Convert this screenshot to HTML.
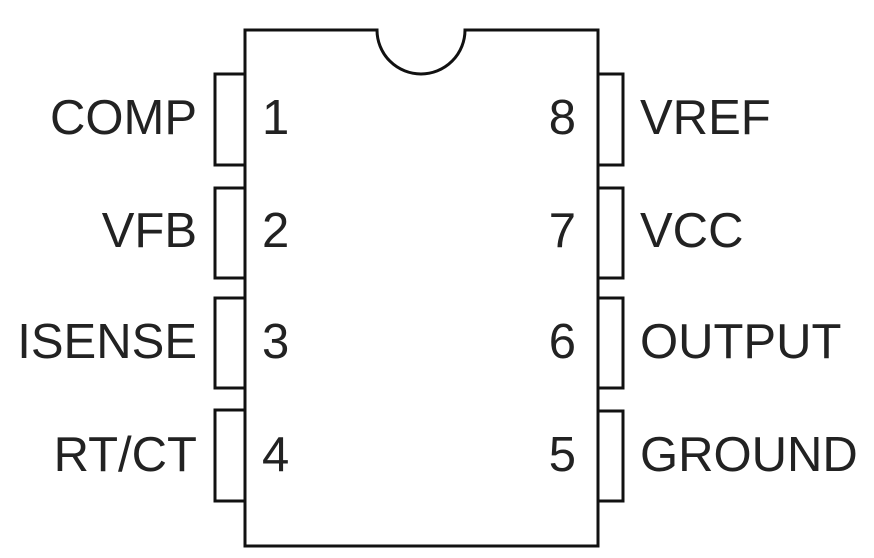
<!DOCTYPE html>
<html><head><style>
html,body{margin:0;padding:0;background:#fff;}
svg{display:block;}
text{font-family:"Liberation Sans",sans-serif;font-size:49px;fill:#222;}
</style></head><body>
<svg width="874" height="558" viewBox="0 0 874 558">
<g fill="none" stroke="#111" stroke-width="3">
<path d="M245,30 H377 A44,44 0 0 0 465,30 H598 V546 H245 Z"/>
<rect x="215" y="74" width="30" height="91"/>
<rect x="215" y="188" width="30" height="90"/>
<rect x="215" y="298" width="30" height="90"/>
<rect x="215" y="410" width="30" height="91"/>
<rect x="598" y="74" width="25" height="91"/>
<rect x="598" y="188" width="25" height="90"/>
<rect x="598" y="298" width="25" height="90"/>
<rect x="598" y="411" width="25" height="90"/>
</g>
<g text-anchor="end">
<text x="197" y="134">COMP</text>
<text x="197" y="247">VFB</text>
<text x="197" y="358">ISENSE</text>
<text x="197" y="471">RT/CT</text>
<text x="576" y="134">8</text>
<text x="576" y="247">7</text>
<text x="576" y="358">6</text>
<text x="576" y="471">5</text>
</g>
<text x="262" y="134">1</text>
<text x="262" y="247">2</text>
<text x="262" y="358">3</text>
<text x="262" y="471">4</text>
<text x="640" y="134">VREF</text>
<text x="640" y="247">VCC</text>
<text x="640" y="358">OUTPUT</text>
<text x="640" y="471">GROUND</text>
</svg>
</body></html>
